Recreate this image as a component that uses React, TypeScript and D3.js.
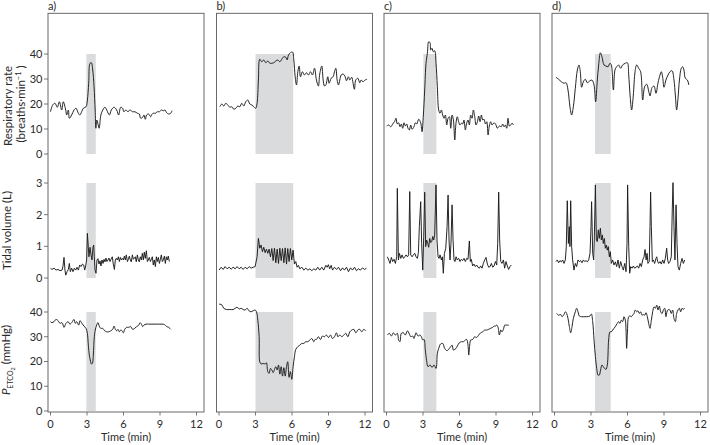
import React from "react";
import * as d3 from "d3";

type Pt = [number, number];

const panelLetters = ["a)", "b)", "c)", "d)"];
const shadeStart = [2.95, 3.0, 3.03, 3.33];
const shadeEnd = [3.72, 6.1, 4.1, 4.62];
const xTicks = [0, 3, 6, 9, 12];
const rrTicks = [0, 10, 20, 30, 40];
const tvTicks = [0, 1, 2, 3];
const petTicks = [0, 10, 20, 30, 40];

// Respiratory rate (breaths/min)
const rrA: Pt[] = [[0,16.9],[0.18,19.6],[0.37,20.3],[0.56,18.7],[0.73,20.9],[0.92,17.6],[1.05,20.9],[1.25,17.6],[1.33,15.6],[1.47,17.6],[1.55,14.3],[1.74,15.6],[1.93,17.6],[2.1,18.3],[2.29,16.3],[2.42,15.6],[2.56,16.9],[2.7,18.3],[2.92,18.9],[3.03,21.6],[3.14,28.3],[3.25,36.3],[3.36,36.5],[3.47,33.6],[3.58,26.9],[3.67,17.6],[3.73,10.3],[3.81,13.6],[3.92,11.6],[4.0,10.3],[4.14,15.6],[4.3,17.6],[4.47,18.7],[4.62,17.6],[4.84,15.6],[5.0,17.6],[5.22,18.7],[5.44,17.6],[5.6,15.6],[5.77,18.7],[5.93,18.3],[6.03,16.9],[6.2,17.6],[6.37,16.9],[6.53,17.6],[6.75,16.9],[6.94,16.9],[7.14,16.3],[7.3,16.0],[7.41,14.3],[7.58,14.7],[7.68,15.6],[7.79,13.9],[7.9,15.6],[8.07,16.0],[8.23,14.9],[8.34,15.9],[8.45,16.3],[8.62,16.3],[8.78,16.9],[8.95,16.9],[9.11,17.6],[9.27,17.3],[9.41,17.6],[9.55,16.5],[9.71,16.0],[9.88,16.3],[9.99,17.3]];
const rrB: Pt[] = [[0.07,18.9],[0.23,20.0],[0.39,19.2],[0.56,20.3],[0.72,19.6],[0.89,18.7],[1.05,18.9],[1.22,17.9],[1.38,18.3],[1.55,19.2],[1.71,18.9],[1.87,20.3],[2.04,19.2],[2.2,20.9],[2.37,21.6],[2.53,20.0],[2.7,19.6],[2.86,18.9],[3.02,18.3],[3.13,20.3],[3.24,29.6],[3.35,37.9],[3.52,36.9],[3.68,37.6],[3.85,36.5],[4.01,37.2],[4.18,36.3],[4.34,36.3],[4.5,36.5],[4.67,37.2],[4.83,37.6],[5.0,36.9],[5.16,37.9],[5.33,38.9],[5.49,38.7],[5.6,37.6],[5.71,39.6],[5.87,40.5],[6.04,40.8],[6.15,37.6],[6.26,30.9],[6.37,27.6],[6.48,32.9],[6.59,35.2],[6.7,30.9],[6.86,32.9],[7.03,31.6],[7.19,32.5],[7.35,31.6],[7.52,32.9],[7.68,31.6],[7.85,34.3],[8.01,29.6],[8.17,27.2],[8.28,32.0],[8.45,35.2],[8.56,29.6],[8.67,27.2],[8.78,27.6],[8.94,30.9],[9.05,28.3],[9.22,30.3],[9.38,30.9],[9.49,32.9],[9.6,34.3],[9.71,29.6],[9.82,27.6],[9.93,29.6],[10.04,31.6],[10.2,32.0],[10.37,30.9],[10.48,29.3],[10.64,30.9],[10.75,29.6],[10.91,30.7],[11.02,28.3],[11.13,25.9],[11.24,29.6],[11.41,30.3],[11.57,28.5],[11.68,29.6],[11.84,28.9],[12.01,29.6],[12.17,29.9]];
const rrC: Pt[] = [[0.02,11.2],[0.18,11.6],[0.35,10.9],[0.51,12.0],[0.67,13.0],[0.78,14.3],[0.89,12.0],[1.0,12.5],[1.11,10.9],[1.22,12.0],[1.33,10.3],[1.44,12.5],[1.55,11.2],[1.66,12.0],[1.77,10.3],[1.88,9.6],[1.99,11.6],[2.1,9.9],[2.26,10.9],[2.37,12.5],[2.48,12.0],[2.65,13.9],[2.81,12.5],[2.92,8.9],[3.03,15.6],[3.14,25.6],[3.25,36.3],[3.36,40.3],[3.47,44.9],[3.58,44.5],[3.63,41.6],[3.74,42.3],[3.85,40.9],[3.96,41.3],[4.07,36.3],[4.18,26.9],[4.29,17.6],[4.4,16.3],[4.51,17.6],[4.62,15.6],[4.73,14.3],[4.84,15.6],[4.95,11.6],[5.06,14.3],[5.17,14.9],[5.28,10.3],[5.39,15.6],[5.5,13.6],[5.61,5.6],[5.71,12.3],[5.82,14.9],[5.93,12.9],[6.04,11.6],[6.15,12.3],[6.26,12.0],[6.37,13.6],[6.48,9.6],[6.59,12.3],[6.7,13.6],[6.81,11.6],[6.92,15.6],[7.03,14.3],[7.14,17.6],[7.25,14.9],[7.36,11.6],[7.47,12.9],[7.58,15.2],[7.69,12.9],[7.8,15.6],[7.91,13.6],[8.02,13.9],[8.13,12.0],[8.24,12.9],[8.35,7.6],[8.45,11.2],[8.56,12.9],[8.67,11.6],[8.84,12.5],[9.0,11.6],[9.11,10.3],[9.28,11.2],[9.44,10.9],[9.55,12.0],[9.66,10.9],[9.77,11.6],[9.88,10.3],[9.99,14.3],[10.1,11.2],[10.21,11.6],[10.32,12.3],[10.43,11.6]];
const rrD: Pt[] = [[0.12,30.7],[0.34,29.9],[0.56,28.9],[0.78,28.3],[0.95,28.5],[1.11,25.6],[1.27,18.9],[1.41,15.6],[1.55,18.9],[1.71,26.3],[1.88,33.6],[2.01,35.6],[2.12,32.9],[2.23,26.7],[2.37,28.9],[2.53,29.9],[2.7,28.5],[2.92,29.3],[3.08,29.6],[3.25,27.6],[3.38,20.9],[3.52,29.6],[3.63,35.6],[3.77,40.5],[3.9,38.9],[4.07,35.6],[4.23,35.2],[4.4,34.9],[4.56,36.3],[4.67,35.6],[4.84,25.6],[4.97,33.6],[5.11,34.9],[5.27,35.6],[5.44,34.3],[5.6,35.6],[5.82,36.3],[5.99,36.5],[6.1,31.6],[6.21,23.6],[6.34,17.6],[6.48,23.6],[6.62,32.9],[6.75,35.6],[6.92,34.3],[7.08,32.9],[7.25,21.6],[7.41,26.9],[7.58,27.9],[7.74,25.2],[7.85,23.2],[8.01,26.5],[8.18,27.2],[8.34,24.3],[8.51,28.5],[8.67,31.6],[8.78,32.9],[8.89,30.7],[9.0,26.7],[9.16,29.6],[9.33,31.6],[9.49,32.9],[9.66,33.3],[9.82,29.6],[9.93,23.6],[10.04,17.6],[10.15,22.3],[10.27,29.6],[10.42,34.3],[10.53,34.9],[10.64,33.6],[10.75,30.3],[10.92,29.6],[11.04,27.6]];

// Tidal volume (L)
const tvA: Pt[] = [[0,0.31],[0.12,0.27],[0.29,0.31],[0.45,0.25],[0.62,0.27],[0.78,0.23],[0.95,0.25],[1.03,0.38],[1.11,0.65],[1.19,0.25],[1.25,0.09],[1.36,0.2],[1.47,0.27],[1.55,0.46],[1.63,0.2],[1.74,0.31],[1.85,0.2],[1.96,0.31],[2.07,0.25],[2.18,0.34],[2.29,0.25],[2.4,0.41],[2.51,0.36],[2.62,0.44],[2.73,0.41],[2.81,0.25],[2.89,0.38],[2.97,0.57],[3.03,1.41],[3.11,0.97],[3.16,0.67],[3.25,0.97],[3.33,0.73],[3.41,0.57],[3.49,0.97],[3.55,1.04],[3.6,0.67],[3.66,0.25],[3.74,0.15],[3.82,0.57],[3.9,0.61],[3.99,0.44],[4.07,0.54],[4.15,0.38],[4.23,0.57],[4.32,0.46],[4.4,0.59],[4.48,0.51],[4.56,0.63],[4.64,0.52],[4.73,0.57],[4.81,0.63],[4.89,0.52],[4.97,0.59],[5.08,0.67],[5.16,0.44],[5.25,0.27],[5.33,0.57],[5.41,0.62],[5.49,0.57],[5.58,0.67],[5.66,0.52],[5.74,0.65],[5.82,0.57],[5.9,0.62],[5.99,0.57],[6.07,0.69],[6.15,0.57],[6.23,0.73],[6.32,0.52],[6.4,0.59],[6.48,0.69],[6.56,0.57],[6.64,0.51],[6.73,0.73],[6.81,0.59],[6.89,0.63],[6.97,0.67],[7.05,0.51],[7.14,0.73],[7.22,0.57],[7.3,0.51],[7.38,0.67],[7.47,0.57],[7.55,0.78],[7.63,0.57],[7.71,0.82],[7.79,0.62],[7.88,0.86],[7.96,0.52],[8.04,0.57],[8.12,0.65],[8.21,0.52],[8.29,0.59],[8.37,0.67],[8.45,0.41],[8.53,0.57],[8.62,0.36],[8.7,0.67],[8.78,0.52],[8.86,0.65],[8.95,0.46],[9.03,0.59],[9.11,0.73],[9.19,0.52],[9.27,0.57],[9.36,0.69],[9.44,0.46],[9.52,0.67],[9.6,0.57],[9.68,0.69],[9.77,0.52]];
const tvB: Pt[] = [[0,0.25],[0.18,0.34],[0.34,0.27],[0.5,0.36],[0.67,0.29],[0.83,0.34],[1.0,0.28],[1.16,0.34],[1.33,0.29],[1.49,0.36],[1.66,0.29],[1.82,0.34],[1.98,0.27],[2.15,0.34],[2.31,0.29],[2.48,0.36],[2.64,0.31],[2.81,0.34],[2.97,0.36],[3.13,0.67],[3.24,1.25],[3.3,1.09],[3.35,0.94],[3.46,1.04],[3.57,0.83],[3.68,0.97],[3.79,0.8],[3.9,0.91],[4.01,0.78],[4.12,0.91],[4.23,0.67],[4.34,0.93],[4.45,0.55],[4.56,0.94],[4.67,0.48],[4.78,0.91],[4.89,0.46],[5.0,0.94],[5.11,0.55],[5.22,0.93],[5.33,0.48],[5.44,0.95],[5.55,0.44],[5.65,0.93],[5.76,0.52],[5.87,0.93],[5.98,0.57],[6.09,0.88],[6.2,0.44],[6.31,0.52],[6.42,0.34],[6.53,0.4],[6.64,0.29],[6.81,0.34],[6.97,0.25],[7.14,0.31],[7.3,0.25],[7.47,0.29],[7.63,0.23],[7.79,0.29],[7.96,0.25],[8.12,0.34],[8.28,0.25],[8.45,0.34],[8.61,0.25],[8.78,0.4],[8.89,0.34],[8.99,0.42],[9.1,0.29],[9.22,0.4],[9.33,0.25],[9.49,0.34],[9.66,0.27],[9.82,0.34],[9.99,0.23],[10.15,0.32],[10.31,0.25],[10.48,0.34],[10.64,0.2],[10.81,0.32],[10.97,0.25],[11.14,0.34],[11.3,0.23],[11.46,0.29],[11.63,0.25],[11.79,0.32],[11.96,0.27],[12.12,0.31]];
const tvC: Pt[] = [[0.07,0.67],[0.18,0.57],[0.29,0.46],[0.4,0.65],[0.51,0.52],[0.62,0.59],[0.73,0.46],[0.84,0.67],[0.89,2.83],[0.98,0.57],[1.06,0.78],[1.17,0.62],[1.28,0.73],[1.39,0.62],[1.5,0.67],[1.61,0.73],[1.72,0.67],[1.82,0.73],[1.91,2.73],[1.99,0.73],[2.1,0.67],[2.21,0.73],[2.32,0.78],[2.43,0.67],[2.54,0.62],[2.62,0.8],[2.7,1.62],[2.81,2.41],[2.89,1.09],[2.98,0.25],[3.06,1.31],[3.14,2.71],[3.22,0.99],[3.3,1.2],[3.39,1.09],[3.47,0.97],[3.55,1.25],[3.63,1.12],[3.72,1.15],[3.8,1.31],[3.88,1.2],[3.96,1.36],[4.07,2.94],[4.15,1.2],[4.24,0.67],[4.32,0.62],[4.4,0.73],[4.51,0.57],[4.59,0.67],[4.67,0.15],[4.76,0.78],[4.87,0.94],[4.98,1.62],[5.06,2.62],[5.14,1.2],[5.22,0.57],[5.3,1.09],[5.39,2.31],[5.47,1.2],[5.55,0.57],[5.63,0.52],[5.72,0.67],[5.82,0.57],[5.93,0.62],[6.04,0.52],[6.15,0.59],[6.26,0.55],[6.37,0.62],[6.48,0.52],[6.59,0.62],[6.7,0.59],[6.81,1.17],[6.89,0.52],[6.97,0.59],[7.08,0.38],[7.19,0.44],[7.3,0.36],[7.41,0.41],[7.52,0.34],[7.63,0.31],[7.74,0.38],[7.85,0.31],[7.96,0.46],[8.07,0.57],[8.18,0.65],[8.29,0.44],[8.4,0.34],[8.51,0.36],[8.62,0.46],[8.73,0.34],[8.84,0.38],[8.95,0.52],[9.06,0.41],[9.14,1.09],[9.22,2.71],[9.3,1.2],[9.39,0.52],[9.49,0.46],[9.61,0.57],[9.71,0.31],[9.82,0.52],[9.93,0.38],[10.04,0.27],[10.15,0.36],[10.26,0.41]];
const tvD: Pt[] = [[0.12,0.52],[0.23,0.57],[0.34,0.48],[0.45,0.55],[0.56,0.51],[0.67,0.57],[0.78,0.46],[0.89,0.57],[0.97,0.99],[1.05,2.44],[1.14,1.09],[1.22,1.62],[1.27,0.99],[1.33,2.44],[1.41,0.99],[1.49,0.57],[1.6,0.25],[1.71,0.46],[1.82,0.36],[1.93,0.57],[2.04,0.52],[2.15,0.55],[2.26,0.48],[2.37,0.57],[2.48,0.52],[2.59,0.55],[2.7,0.51],[2.81,0.57],[2.92,0.78],[3.0,1.62],[3.05,2.41],[3.14,0.78],[3.22,0.57],[3.27,1.2],[3.36,2.94],[3.44,1.2],[3.52,1.15],[3.6,1.52],[3.68,1.25],[3.77,1.57],[3.85,1.2],[3.93,1.36],[4.01,1.09],[4.1,1.25],[4.18,0.94],[4.26,1.04],[4.34,0.88],[4.42,0.99],[4.51,0.67],[4.59,0.83],[4.67,0.46],[4.78,0.57],[4.89,0.41],[5.0,0.51],[5.11,0.36],[5.22,0.57],[5.33,0.31],[5.44,0.52],[5.55,0.36],[5.66,0.25],[5.77,0.46],[5.88,0.2],[5.96,1.09],[6.01,2.94],[6.1,0.99],[6.18,0.15],[6.26,0.36],[6.37,0.31],[6.48,0.38],[6.59,0.31],[6.7,0.34],[6.81,0.38],[6.92,0.31],[7.03,0.46],[7.14,0.36],[7.25,0.57],[7.36,0.67],[7.44,0.9],[7.53,0.57],[7.61,0.78],[7.68,0.46],[7.79,0.52],[7.85,1.62],[7.9,2.71],[7.96,1.62],[8.04,0.52],[8.12,0.57],[8.23,0.46],[8.34,0.62],[8.4,0.67],[8.48,0.52],[8.56,0.46],[8.67,0.52],[8.78,0.44],[8.89,0.57],[9.0,0.46],[9.11,0.62],[9.22,0.94],[9.3,0.57],[9.38,0.46],[9.49,0.52],[9.6,0.67],[9.68,2.15],[9.74,3.01],[9.82,1.62],[9.9,0.57],[9.99,2.31],[10.07,1.09],[10.15,0.36],[10.26,0.25],[10.37,0.46],[10.48,0.62],[10.59,0.46],[10.7,0.57]];

// End-tidal CO2 (mmHg)
const petA: Pt[] = [[0,36.1],[0.12,35.7],[0.29,36.1],[0.45,37.0],[0.62,36.5],[0.78,35.4],[0.95,35.7],[1.11,33.8],[1.27,35.4],[1.44,36.1],[1.6,35.1],[1.77,35.9],[1.93,37.0],[2.04,35.4],[2.15,36.1],[2.32,34.7],[2.42,36.5],[2.59,35.4],[2.75,34.3],[2.92,33.4],[3.03,31.4],[3.11,26.6],[3.19,22.6],[3.27,20.6],[3.36,19.0],[3.44,19.2],[3.52,22.6],[3.6,30.0],[3.68,32.7],[3.79,34.7],[3.9,35.7],[4.01,34.3],[4.12,33.4],[4.29,33.4],[4.45,32.4],[4.62,32.0],[4.78,32.0],[4.95,32.4],[5.11,33.0],[5.22,34.3],[5.33,33.0],[5.44,32.4],[5.55,33.0],[5.66,32.0],[5.77,32.7],[5.88,32.4],[5.99,31.6],[6.1,33.0],[6.26,33.8],[6.42,33.8],[6.59,34.1],[6.75,33.0],[6.92,33.4],[7.08,34.1],[7.25,34.7],[7.36,35.7],[7.47,35.1],[7.58,34.1],[7.68,34.7],[7.85,35.1],[8.07,35.1],[8.34,35.1],[8.62,35.1],[8.89,35.1],[9.16,35.1],[9.38,34.9],[9.55,34.1],[9.71,33.8],[9.88,33.0]];
const petB: Pt[] = [[0,43.2],[0.23,42.9],[0.39,41.5],[0.61,41.0],[0.89,41.0],[1.16,41.0],[1.33,41.5],[1.49,41.9],[1.66,41.2],[1.82,41.5],[1.98,41.0],[2.15,40.8],[2.31,41.5],[2.48,40.4],[2.64,40.1],[2.81,40.5],[2.97,40.8],[3.08,40.1],[3.19,36.7],[3.3,30.0],[3.35,19.9],[3.46,19.0],[3.63,19.2],[3.79,19.0],[3.9,19.5],[4.01,15.9],[4.12,15.2],[4.23,17.2],[4.34,16.6],[4.45,15.5],[4.56,16.8],[4.67,17.9],[4.78,16.6],[4.89,18.6],[5.0,14.9],[5.11,17.9],[5.22,14.1],[5.33,17.5],[5.44,14.1],[5.55,17.9],[5.65,19.9],[5.76,13.6],[5.87,15.9],[5.98,12.8],[6.09,17.9],[6.2,21.9],[6.31,24.9],[6.48,26.0],[6.64,26.6],[6.81,27.3],[6.97,27.3],[7.14,28.0],[7.3,28.0],[7.47,28.7],[7.63,29.3],[7.79,28.0],[7.9,28.9],[8.01,28.9],[8.17,30.0],[8.34,28.9],[8.5,30.3],[8.67,30.0],[8.83,30.7],[9.0,29.7],[9.16,30.7],[9.33,29.3],[9.49,30.0],[9.66,31.6],[9.77,30.0],[9.93,30.7],[10.09,30.0],[10.26,30.7],[10.42,31.4],[10.59,30.0],[10.75,32.0],[10.91,32.7],[11.08,33.0],[11.24,31.6],[11.41,32.7],[11.57,33.0],[11.74,32.0],[11.9,33.0],[12.07,32.4]];
const petC: Pt[] = [[0.07,30.7],[0.24,31.4],[0.4,30.3],[0.56,31.6],[0.73,30.7],[0.89,31.4],[1.0,28.7],[1.11,28.0],[1.22,31.4],[1.39,31.6],[1.55,30.7],[1.72,32.4],[1.88,31.1],[1.99,30.0],[2.15,30.3],[2.26,29.3],[2.43,31.6],[2.59,30.3],[2.76,30.7],[2.87,30.0],[2.98,28.7],[3.09,28.9],[3.19,24.6],[3.3,20.3],[3.41,17.9],[3.58,18.6],[3.74,17.6],[3.91,18.6],[4.07,17.2],[4.18,23.3],[4.29,25.3],[4.45,27.1],[4.62,27.3],[4.78,25.3],[4.95,24.4],[5.05,24.6],[5.17,25.3],[5.28,26.0],[5.39,26.6],[5.5,24.6],[5.61,24.9],[5.72,25.3],[5.82,26.2],[5.99,27.6],[6.15,28.0],[6.32,28.0],[6.48,28.7],[6.59,28.9],[6.7,26.6],[6.76,22.6],[6.84,26.6],[6.92,28.7],[7.08,28.9],[7.25,30.0],[7.41,29.7],[7.58,30.7],[7.74,31.6],[7.91,32.0],[8.07,32.7],[8.23,32.7],[8.4,33.0],[8.56,33.4],[8.73,33.8],[8.84,34.3],[8.95,34.3],[9.06,34.7],[9.17,33.8],[9.28,30.7],[9.39,32.7],[9.49,32.0],[9.61,33.0],[9.72,34.7],[9.88,34.7],[10.05,34.7]];
const petD: Pt[] = [[0.18,39.4],[0.34,38.7],[0.51,39.0],[0.62,38.1],[0.78,39.0],[0.89,40.1],[1.0,39.4],[1.11,37.4],[1.22,34.1],[1.33,31.6],[1.44,34.1],[1.55,37.4],[1.71,40.1],[1.82,41.5],[1.93,40.1],[2.04,38.4],[2.21,38.1],[2.37,38.1],[2.64,38.1],[2.92,38.4],[3.03,39.2],[3.14,36.1],[3.25,28.7],[3.36,22.0],[3.47,17.2],[3.58,14.5],[3.68,14.5],[3.79,16.6],[3.9,18.6],[4.01,17.9],[4.12,17.2],[4.23,16.8],[4.34,18.6],[4.45,28.7],[4.56,32.0],[4.67,32.0],[4.78,32.7],[4.89,33.4],[5.0,34.1],[5.16,35.4],[5.27,36.1],[5.38,35.4],[5.49,36.7],[5.6,36.1],[5.71,38.1],[5.82,36.7],[5.88,32.7],[5.93,25.3],[5.99,31.4],[6.1,38.1],[6.21,38.4],[6.32,38.1],[6.42,38.7],[6.53,39.4],[6.64,40.8],[6.75,40.1],[6.86,40.5],[6.97,39.4],[7.08,40.1],[7.19,38.7],[7.3,39.0],[7.41,38.7],[7.52,39.7],[7.63,38.1],[7.74,35.4],[7.85,33.4],[7.96,36.7],[8.07,40.1],[8.18,42.1],[8.29,41.5],[8.4,42.8],[8.51,40.8],[8.62,42.4],[8.73,40.1],[8.84,39.4],[8.95,40.8],[9.06,41.5],[9.16,38.1],[9.27,40.5],[9.38,41.0],[9.49,40.8],[9.6,39.4],[9.71,40.8],[9.82,37.4],[9.93,36.1],[10.04,39.4],[10.15,40.8],[10.26,41.5],[10.37,40.1],[10.48,41.5],[10.59,41.1],[10.7,41.5]];

const FONT = "Lato, 'Noto Sans', sans-serif";
const TXT = "#2b2b2b";

export default function App() {
  const frameTop = 13.3;
  const frameBottom = 412;
  const panelW = 156;
  const lefts = [48, 216.5, 384, 552];

  const rows = [
    { domain: [0, 40], range: [154, 54], ticks: rrTicks, series: [rrA, rrB, rrC, rrD], curve: d3.curveCatmullRom.alpha(0.5) },
    { domain: [0, 3], range: [278, 183], ticks: tvTicks, series: [tvA, tvB, tvC, tvD], curve: d3.curveLinear },
    { domain: [0, 40], range: [411, 312], ticks: petTicks, series: [petA, petB, petC, petD], curve: d3.curveCatmullRom.alpha(0.5) },
  ];

  return (
    <svg width={710} height={445} style={{ position: "absolute", left: 0, top: 0, background: "#fff" }} fontFamily={FONT}>
      {lefts.map((left, pi) => {
        const x = d3.scaleLinear().domain([0, 12]).range([left + 2.5, left + 148.5]);
        return (
          <g key={pi}>
            {rows.map((row, ri) => {
              const y = d3.scaleLinear().domain(row.domain).range(row.range);
              const line = d3.line<Pt>().x((d) => x(d[0])).y((d) => y(d[1])).curve(row.curve);
              return (
                <g key={ri}>
                  <rect
                    x={x(shadeStart[pi])}
                    y={y(row.domain[1])}
                    width={x(shadeEnd[pi]) - x(shadeStart[pi])}
                    height={y(row.domain[0]) - y(row.domain[1])}
                    fill="#dadbdc"
                  />
                  <path d={line(row.series[pi]) || ""} fill="none" stroke="#1a1a1a" strokeWidth={0.95} strokeLinejoin="round" />
                  {pi === 0 &&
                    row.ticks.map((t) => (
                      <g key={t}>
                        <line x1={left - 4} x2={left} y1={y(t)} y2={y(t)} stroke="#555" strokeWidth={0.8} />
                        <text x={left - 5.5} y={y(t)} dy="0.35em" textAnchor="end" fontSize={11} fill={TXT}>{t}</text>
                      </g>
                    ))}
                </g>
              );
            })}
            <rect x={left} y={frameTop} width={panelW} height={frameBottom - frameTop} fill="none" stroke="#5a5a5a" strokeWidth={0.9} />
            {xTicks.map((t) => (
              <g key={t}>
                <line x1={x(t)} x2={x(t)} y1={frameBottom} y2={frameBottom + 3.5} stroke="#555" strokeWidth={0.8} />
                <text x={x(t)} y={frameBottom + 16} textAnchor="middle" fontSize={11} fill={TXT}>{t}</text>
              </g>
            ))}
            <text x={left + panelW / 2} y={440.5} textAnchor="middle" fontSize={11} fill={TXT}>Time (min)</text>
            <text x={left} y={10} fontSize={11} fill={TXT}>{panelLetters[pi]}</text>
          </g>
        );
      })}
      <text transform="translate(8,106) rotate(-90)" textAnchor="middle" dy="0.35em" fontSize={11.5} fill={TXT}>Respiratory rate</text>
      <text transform="translate(20.5,104) rotate(-90)" textAnchor="middle" dy="0.35em" fontSize={11.5} fill={TXT}>
        (breaths·min<tspan fontSize={7.5} dy="-4">−1</tspan><tspan dy="4"> )</tspan>
      </text>
      <text transform="translate(7,230.5) rotate(-90)" textAnchor="middle" dy="0.35em" fontSize={11.5} fill={TXT}>Tidal volume (L)</text>
      <text transform="translate(6,360) rotate(-90)" textAnchor="middle" dy="0.35em" fontSize={11.5} fill={TXT}>
        <tspan fontStyle="italic">P</tspan>
        <tspan fontSize={7} dy="3">ETCO</tspan>
        <tspan fontSize={5.5} dy="1.5">2</tspan>
        <tspan dy="-4.5"> (mmHg)</tspan>
      </text>
    </svg>
  );
}
